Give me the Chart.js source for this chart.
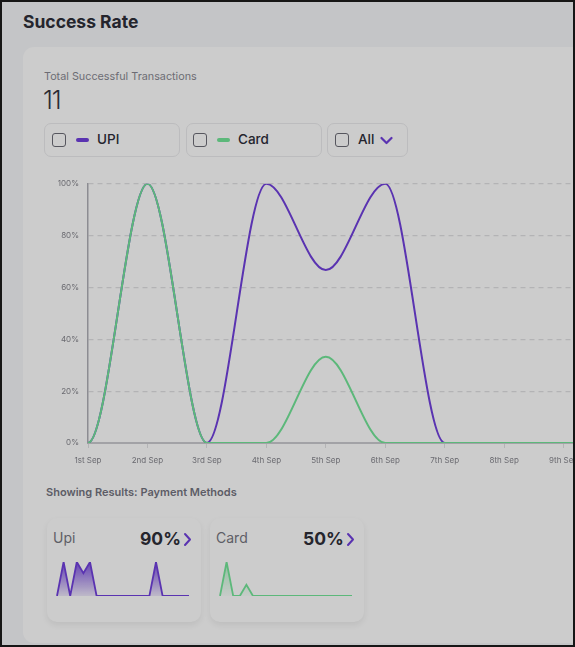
<!DOCTYPE html>
<html>
<head>
<meta charset="utf-8">
<script src="https://cdn.jsdelivr.net/npm/chart.js@4.4.0/dist/chart.umd.min.js"></script>
<style>
  html, body { margin: 0; padding: 0; overflow: hidden; }
  body { font-family: Inter, "Noto Sans", sans-serif; }
  #page { position: relative; width: 575px; height: 647px; overflow: hidden; background: #c4c5c7; }
  #frame { position: absolute; left: 0; top: 0; width: 575px; height: 647px; box-sizing: border-box; border: 2px solid #161616; pointer-events: none; z-index: 10; }
  .abs { position: absolute; white-space: nowrap; }
  #title { left: 23px; top: 11px; font-size: 17.5px; font-weight: 700; color: #25252d; }
  #card { left: 23px; top: 47px; width: 600px; height: 596px; background: #cccccc; border-radius: 11px; }
  #totalLbl { left: 44px; top: 70px; font-size: 10.8px; color: #6c6c74; }
  #totalVal { left: 43px; top: 85px; font-size: 25px; font-weight: 300; color: #2b2b33; letter-spacing: -1px; }
  .filter { position: absolute; top: 123px; height: 34px; box-sizing: border-box; border: 1px solid #bcbcbe; border-radius: 7px; }
  .cb { position: absolute; top: 9px; width: 14px; height: 14px; box-sizing: border-box; border: 1.5px solid #56565e; border-radius: 3px; }
  .dash { position: absolute; top: 14px; width: 13px; height: 4px; border-radius: 2px; }
  .flbl { position: absolute; top: 7px; font-size: 13.5px; font-weight: 500; color: #24242e; }
  #mainWrap { left: 44px; top: 170px; width: 1257px; height: 305px; }
  #showLbl { left: 46px; top: 485px; font-size: 11px; font-weight: 600; color: #5c5c66; }
  .mini { position: absolute; top: 518px; width: 154px; height: 104px; background: #cccccc; border-radius: 10px; box-shadow: 0 3px 6px rgba(0,0,0,0.07); }
  .mname { position: absolute; left: 6px; top: 11px; font-size: 14px; color: #5e5e66; }
  .mval { position: absolute; top: 10px; font-size: 17.5px; font-weight: 700; color: #25252d; }
  .spark { position: absolute; width: 136px; height: 38px; }
</style>
</head>
<body>
<div id="page">
  <div id="title" class="abs">Success Rate</div>
  <div id="card" class="abs"></div>
  <div id="totalLbl" class="abs">Total Successful Transactions</div>
  <div id="totalVal" class="abs">11</div>

  <div class="filter" style="left:44px; width:136px;">
    <div class="cb" style="left:7px;"></div>
    <div class="dash" style="left:31px; background:#5a33b1;"></div>
    <div class="flbl" style="left:52px;">UPI</div>
  </div>
  <div class="filter" style="left:186px; width:136px;">
    <div class="cb" style="left:6px;"></div>
    <div class="dash" style="left:30px; background:#5cb87a;"></div>
    <div class="flbl" style="left:51px;">Card</div>
  </div>
  <div class="filter" style="left:327px; width:81px;">
    <div class="cb" style="left:7px;"></div>
    <div class="flbl" style="left:30px;">All</div>
    <svg style="position:absolute; left:52px; top:12px;" width="13" height="9" viewBox="0 0 13 9">
      <polyline points="1.5,2 6.5,7 11.5,2" fill="none" stroke="#5a33b1" stroke-width="2.2" stroke-linecap="round" stroke-linejoin="round"/>
    </svg>
  </div>

  <div id="mainWrap" class="abs"><canvas id="mainChart"></canvas></div>

  <div id="showLbl" class="abs">Showing Results: Payment Methods</div>

  <div class="mini" style="left:47px;">
    <div class="mname">Upi</div>
    <div class="mval" style="left:93px;">90%</div>
    <svg style="position:absolute; left:136px; top:14px;" width="9" height="15" viewBox="0 0 9 15">
      <polyline points="2,2 7,7.5 2,13" fill="none" stroke="#5a33b1" stroke-width="2" stroke-linecap="round" stroke-linejoin="round"/>
    </svg>
  </div>
  <div class="mini" style="left:210px;">
    <div class="mname">Card</div>
    <div class="mval" style="left:93px;">50%</div>
    <svg style="position:absolute; left:136px; top:14px;" width="9" height="15" viewBox="0 0 9 15">
      <polyline points="2,2 7,7.5 2,13" fill="none" stroke="#5a33b1" stroke-width="2" stroke-linecap="round" stroke-linejoin="round"/>
    </svg>
  </div>
  <div class="spark" style="left:55px; top:560px;"><canvas id="upiSpark"></canvas></div>
  <div class="spark" style="left:218px; top:560px;"><canvas id="cardSpark"></canvas></div>

  <div id="frame"></div>
</div>

<script>
// the main chart is scrolled so it opens on 1st Sep; 31st Aug sits just off the left edge
const days = ['31st Aug', '1st Sep', '2nd Sep', '3rd Sep', '4th Sep', '5th Sep', '6th Sep', '7th Sep',
  '8th Sep', '9th Sep', '10th Sep', '11th Sep', '12th Sep', '13th Sep', '14th Sep',
  '15th Sep', '16th Sep', '17th Sep', '18th Sep', '19th Sep', '20th Sep', '21st Sep'];
const upiRate = [0, 0, 100, 0, 100, 66.7, 100, 0, 0, 0, 0, 0, 0, 0, 0, 0, 100, 0, 0, 0, 0, 0];
const cardRate = [0, 0, 100, 0, 0, 33.3, 0, 0, 0, 0, 0, 0, 0, 0, 0, 0, 0, 0, 0, 0, 0, 0];
const yTicks = [0, 20, 40, 60, 80, 100];

const purple = '#5a33b1';
const green = '#5cb87a';

document.addEventListener('DOMContentLoaded', function() {
  const ctx = document.getElementById('mainChart');

  new Chart(ctx, {
    type: 'line',
    data: {
      labels: days,
      datasets: [
        {
          label: 'UPI',
          data: upiRate,
          borderColor: purple,
          borderWidth: 2,
          cubicInterpolationMode: 'monotone',
          pointRadius: 0,
          order: 2
        },
        {
          label: 'Card',
          data: cardRate,
          borderColor: green,
          borderWidth: 2,
          cubicInterpolationMode: 'monotone',
          pointRadius: 0,
          order: 1
        }
      ]
    },
    options: {
      responsive: true,
      maintainAspectRatio: false,
      animation: false,
      layout: { padding: { top: 0, right: 0 } },
      plugins: { legend: { display: false }, tooltip: { enabled: false } },
      scales: {
        x: {
          min: '1st Sep',
          grid: { display: true, drawOnChartArea: false, drawTicks: true, tickLength: 5, color: '#b4b4b6' },
          border: { display: true, color: '#a2a2a6', width: 2 },
          ticks: {
            color: '#6a6a70',
            font: { family: 'Inter', size: 8 },
            padding: 8,
            maxRotation: 0,
            autoSkip: false
          },
          afterFit: function(scale) { scale.height = 32; }
        },
        y: {
          min: 0,
          max: 100,
          afterBuildTicks: function(scale) {
            scale.ticks = yTicks.map(function(v) { return { value: v }; });
          },
          grid: { color: '#b3b3b5', lineWidth: 1.2, drawTicks: false },
          border: { display: true, color: '#8c8c92', width: 1.5, dash: [5, 4] },
          ticks: {
            color: '#6a6a70',
            font: { family: 'Inter', size: 8 },
            padding: 9,
            callback: function(value) { return value + '%'; }
          },
          afterFit: function(scale) { scale.width = 44; }
        }
      }
    }
  });

  function spark(id, values, color, rgb, topAlpha, bottomAlpha) {
    const el = document.getElementById(id);
    new Chart(el, {
      type: 'line',
      data: {
        labels: days.slice(1),
        datasets: [{
          data: values.slice(1),
          borderColor: color,
          borderWidth: 1.8,
          tension: 0,
          pointRadius: 0,
          fill: 'origin',
          backgroundColor: function(context) {
            const area = context.chart.chartArea;
            if (!area) return 'rgba(' + rgb + ',' + topAlpha + ')';
            const g = context.chart.ctx.createLinearGradient(0, area.top, 0, area.bottom);
            g.addColorStop(0, 'rgba(' + rgb + ',' + topAlpha + ')');
            g.addColorStop(1, 'rgba(' + rgb + ',' + bottomAlpha + ')');
            return g;
          }
        }]
      },
      options: {
        responsive: true,
        maintainAspectRatio: false,
        animation: false,
        layout: { padding: 2 },
        plugins: { legend: { display: false }, tooltip: { enabled: false } },
        scales: {
          x: { display: false },
          y: { display: false, min: 0, max: 100 }
        }
      }
    });
  }

  spark('upiSpark', upiRate, purple, '90, 51, 177', 0.9, 0.12);
  spark('cardSpark', cardRate, green, '92, 184, 122', 0.55, 0.04);
});
</script>
</body>
</html>
